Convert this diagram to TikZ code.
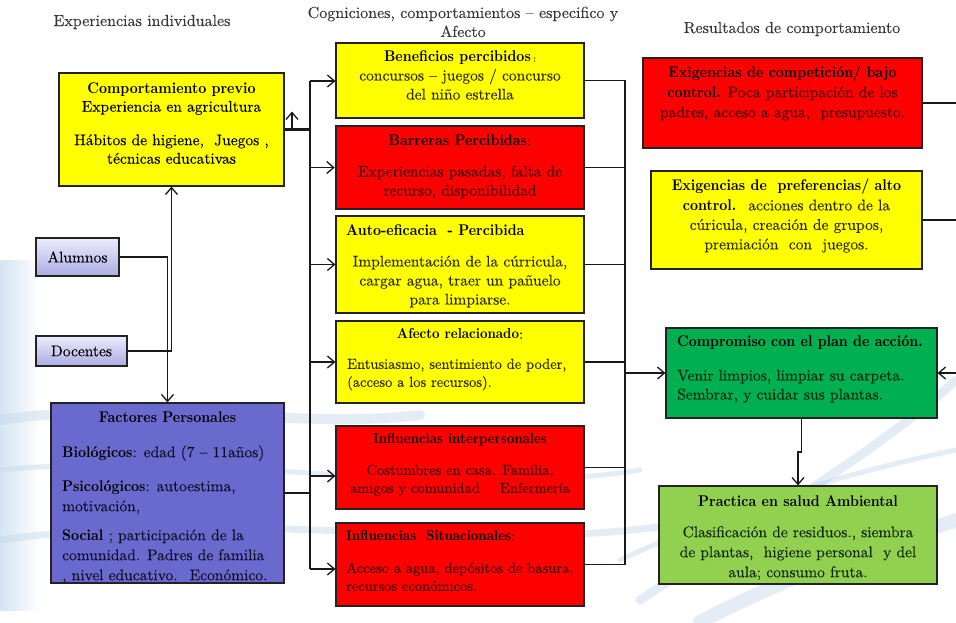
\documentclass[tikz,border=0pt]{standalone}
\usepackage{fontspec}
\setmainfont{lmroman10-regular.otf}[BoldFont=lmroman10-bold.otf, UprightFeatures={FakeBold=0.08}, BoldFeatures={FakeStretch=0.9}]
\usetikzlibrary{arrows.meta}
\definecolor{ylw}{RGB}{255,255,0}
\definecolor{rd}{RGB}{255,0,0}
\definecolor{blu}{RGB}{106,106,206}
\definecolor{grn}{RGB}{0,176,80}
\definecolor{lgrn}{RGB}{146,208,80}
\definecolor{lavT}{RGB}{236,236,252}
\definecolor{lavB}{RGB}{172,172,228}
\definecolor{bdr}{RGB}{35,35,35}
\definecolor{lnc}{RGB}{25,25,25}
\definecolor{ttlc}{RGB}{55,55,55}
\definecolor{ytext}{RGB}{45,45,0}
\definecolor{rtext}{RGB}{75,0,0}
\definecolor{gtext}{RGB}{15,40,15}
\definecolor{btext}{RGB}{15,15,40}
\definecolor{sw}{RGB}{196,216,236}
\begin{document}
\begin{tikzpicture}[x=1pt,y=-1pt,
  box/.style={draw=bdr, line width=1.2pt, inner sep=0pt},
  conn/.style={draw=lnc, line width=1.1pt},
  bus/.style={draw=lnc, line width=2.3pt},
  arr/.style={conn, -{Straight Barb[length=7pt,width=12pt,line width=1.3pt]}},
  txt/.style={inner sep=0pt, align=center, font=\fontsize{15.5}{19}\selectfont},
  stxt/.style={inner sep=0pt, align=center, font=\fontsize{14.5}{18}\selectfont},
  ttl/.style={inner sep=0pt, font=\fontsize{16}{19}\selectfont, text=ttlc, anchor=base},
]
\useasboundingbox (0,0) rectangle (956,622);
% background
\fill[white] (0,0) rectangle (956,622);
\shade[left color=sw!70, right color=white] (0,260) rectangle (40,610);
\begin{scope}[sw, opacity=.45, line cap=round]
\draw[line width=10pt] (0,420) .. controls (150,398) and (300,430) .. (420,415);
\draw[line width=5pt] (0,470) .. controls (200,450) and (450,500) .. (640,470);
\draw[line width=7pt] (0,540) .. controls (250,505) and (500,560) .. (700,520);
\draw[line width=9pt] (640,600) .. controls (760,520) and (880,450) .. (956,380);
\draw[line width=5pt] (620,560) .. controls (750,500) and (860,470) .. (956,450);
\draw[line width=14pt] (700,622) .. controls (820,560) and (900,540) .. (956,520);
\end{scope}

% titles
\node[ttl] (t1) at (142,26) {Experiencias individuales};
\node[ttl] (t2) at (463,18) {Cogniciones, comportamientos – especifico y};
\node[ttl] (t3) at (463,37) {Afecto};
\node[ttl] (t4) at (792,33) {Resultados de comportamiento};

% boxes
\node[box, fill=ylw, minimum width=225pt, minimum height=113pt] (comp) at (171.5,129.5) {};
\node[box, top color=lavT, bottom color=lavB, minimum width=83pt, minimum height=38pt, font=\fontsize{15.5}{19}\selectfont] (alum) at (77.5,257) {Alumnos};
\node[box, top color=lavT, bottom color=lavB, minimum width=91pt, minimum height=30pt, font=\fontsize{15.5}{19}\selectfont] (doc) at (81.5,351) {Docentes};
\node[box, fill=blu, minimum width=233pt, minimum height=180pt] (fact) at (167.5,493) {};
\node[box, fill=ylw, minimum width=248pt, minimum height=75pt] (ben) at (460,80.5) {};
\node[box, fill=rd, line width=2.6pt, minimum width=248pt, minimum height=83pt] (bar) at (460,167.5) {};
\node[box, fill=ylw, minimum width=248pt, minimum height=97pt] (auto) at (460,264.5) {};
\node[box, fill=ylw, minimum width=248pt, minimum height=82pt] (afe) at (460,362) {};
\node[box, fill=rd, minimum width=248pt, minimum height=83pt] (inter) at (460,467.5) {};
\node[box, fill=rd, minimum width=248pt, minimum height=83pt] (sit) at (460,564.5) {};
\node[box, fill=rd, minimum width=279pt, minimum height=90pt] (exc) at (782.5,103) {};
\node[box, fill=ylw, minimum width=271pt, minimum height=98pt] (exp) at (786.5,220) {};
\node[box, fill=grn, minimum width=271pt, minimum height=90pt] (cmp) at (801.5,373) {};
\node[box, fill=lgrn, minimum width=278pt, minimum height=98pt] (pra) at (798,535) {};

% left bus
\coordinate (lbT) at (310,81);
\coordinate (lbB) at (310,569);
\coordinate (jI) at (310,476);
\coordinate (upF) at (292,129.5);
\draw[bus] (comp.east) -- (comp.east -| lbT) -- (fact.east -| lbT) -- (fact.east);
\draw[conn] (lbT) -- (comp.east -| lbT);
\draw[conn] (fact.east -| lbT) -- (lbB);
\draw[arr] (upF) -- ++(0,-18);
\draw[arr] (lbT) -- (lbT -| ben.west);
\draw[arr] (bar.west -| lbT) -- (bar.west);
\draw[arr] (auto.west -| lbT) -- (auto.west);
\draw[arr] (afe.west -| lbT) -- (afe.west);
\draw[arr] (jI) -- (jI -| inter.west);
\draw[arr] (lbB) -- (lbB -| sit.west);

% alumnos / docentes
\draw[arr] (alum.east) -| (fact.north);
\draw[arr] (doc.east) -| (comp.south);

% right bus
\coordinate (rbT) at (625,81);
\draw[conn] (ben.east) -- (ben.east -| rbT) -- (sit.east -| rbT) -- (sit.east);
\foreach \n in {bar,auto,afe,inter} \draw[conn] (\n.east) -- (\n.east -| rbT);
\draw[arr] (cmp.west -| rbT) -- (cmp.west);

% right edge
\coordinate (edge) at (956,0);
\coordinate (jog) at (802,452);
\draw[conn] (exc.east) -- (exc.east -| edge);
\draw[conn] (exp.east) -- (exp.east -| edge);
\draw[arr] (cmp.east -| edge) -- (cmp.east);
\draw[arr] (cmp.south) -- (cmp.south |- jog) -| (pra.north);

% texts
\node[txt, anchor=north, font=\fontsize{15.5}{18.5}\selectfont] (tcomp) at (171.5,80)
  {\strut\textbf{Comportamiento previo}\\ Experiencia en agricultura\\[15pt] Hábitos de higiene,~ Juegos ,\\ técnicas educativas};

\node[txt, anchor=north, text=ytext] (tben) at (460,48)
  {\strut\textcolor{black}{\textbf{Beneficios percibidos}\,{\small :}}\\ concursos – juegos / concurso\\ del niño estrella};

\node[txt, anchor=north, text=rtext] (tbar) at (460,132)
  {\strut\textcolor{black}{\textbf{Barreras Percibidas}:}\\[12pt] Experiencias pasadas, falta de\\ recurso, disponibilidad};

\node[txt, anchor=north west] (tautoh) at (346,222) {\strut\textbf{Auto-eficacia~ - Percibida}};
\node[txt, anchor=north, text=ytext] (tauto) at (460,253)
  {\strut Implementación de la cúrricula,\\ cargar agua, traer un pañuelo\\ para limpiarse.};

\node[stxt, anchor=north] (tafeh) at (460,326) {\strut\textbf{Afecto relacionado}:};
\node[stxt, anchor=north west, align=left, text=ytext] (tafe) at (347,356)
  {\strut Entusiasmo, sentimiento de poder,\\ (acceso a los recursos).};

\node[stxt, anchor=north] (tinterh) at (460,431) {\strut\textbf{Influencias interpersonales}};
\node[stxt, anchor=north, text=rtext] (tinter) at (460,462)
  {\strut Costumbres en casa. Familia,\\ amigos y comunidad.~~ Enfermería};

\node[stxt, anchor=north west] (tsith) at (346,528) {\strut\textbf{Influencias~ Situacionales}:};
\node[stxt, anchor=north west, align=left, text=rtext] (tsit) at (346,560)
  {\strut Acceso a agua, depósitos de basura,\\ recursos económicos.};

\node[txt, anchor=north] (tfacth) at (167.5,409) {\strut\textbf{Factores Personales}};
\node[txt, anchor=north west, align=left, text=btext, font=\fontsize{15.5}{20}\selectfont] (tfact) at (62,443)
  {\strut\textcolor{black}{\textbf{Biológicos}}: edad (7 – 11años)\\[14pt]
   \textcolor{black}{\textbf{Psicológicos}}: autoestima,\\ motivación,\\[9pt]
   \textcolor{black}{\textbf{Social}} ; participación de la\\ comunidad. Padres de familia\\ , nivel educativo.~ Económico.};

\node[txt, anchor=north, text=rtext, font=\fontsize{15.5}{20}\selectfont] (texc) at (782.5,63)
  {\strut\textcolor{black}{\textbf{Exigencias de competición/ bajo}}\\ \textcolor{black}{\textbf{control.}} Poca participación de los\\ padres, acceso a agua,~ presupuesto.};

\node[txt, anchor=north, text=ytext, font=\fontsize{15.5}{19.5}\selectfont] (texp) at (786.5,177)
  {\strut\textcolor{black}{\textbf{Exigencias de~ preferencias/ alto}}\\ \textcolor{black}{\textbf{control.}}~ acciones dentro de la\\ cúricula, creación de grupos,\\ premiación~ con~ juegos.};

\node[txt, anchor=north west] (tcmph) at (677,333) {\strut\textbf{Compromiso con el plan de acción.}};
\node[txt, anchor=north west, align=left, text=gtext] (tcmp) at (677,367)
  {\strut Venir limpios, limpiar su carpeta.\\ Sembrar, y cuidar sus plantas.};

\node[txt, anchor=north, text=gtext, font=\fontsize{15.5}{20}\selectfont] (tpra) at (798,492)
  {\strut\textcolor{black}{\textbf{Practica en salud Ambiental}}\\[11pt] Clasificación de residuos., siembra\\ de plantas,~ higiene personal~ y del\\ aula; consumo fruta.};
\end{tikzpicture}
\end{document}
